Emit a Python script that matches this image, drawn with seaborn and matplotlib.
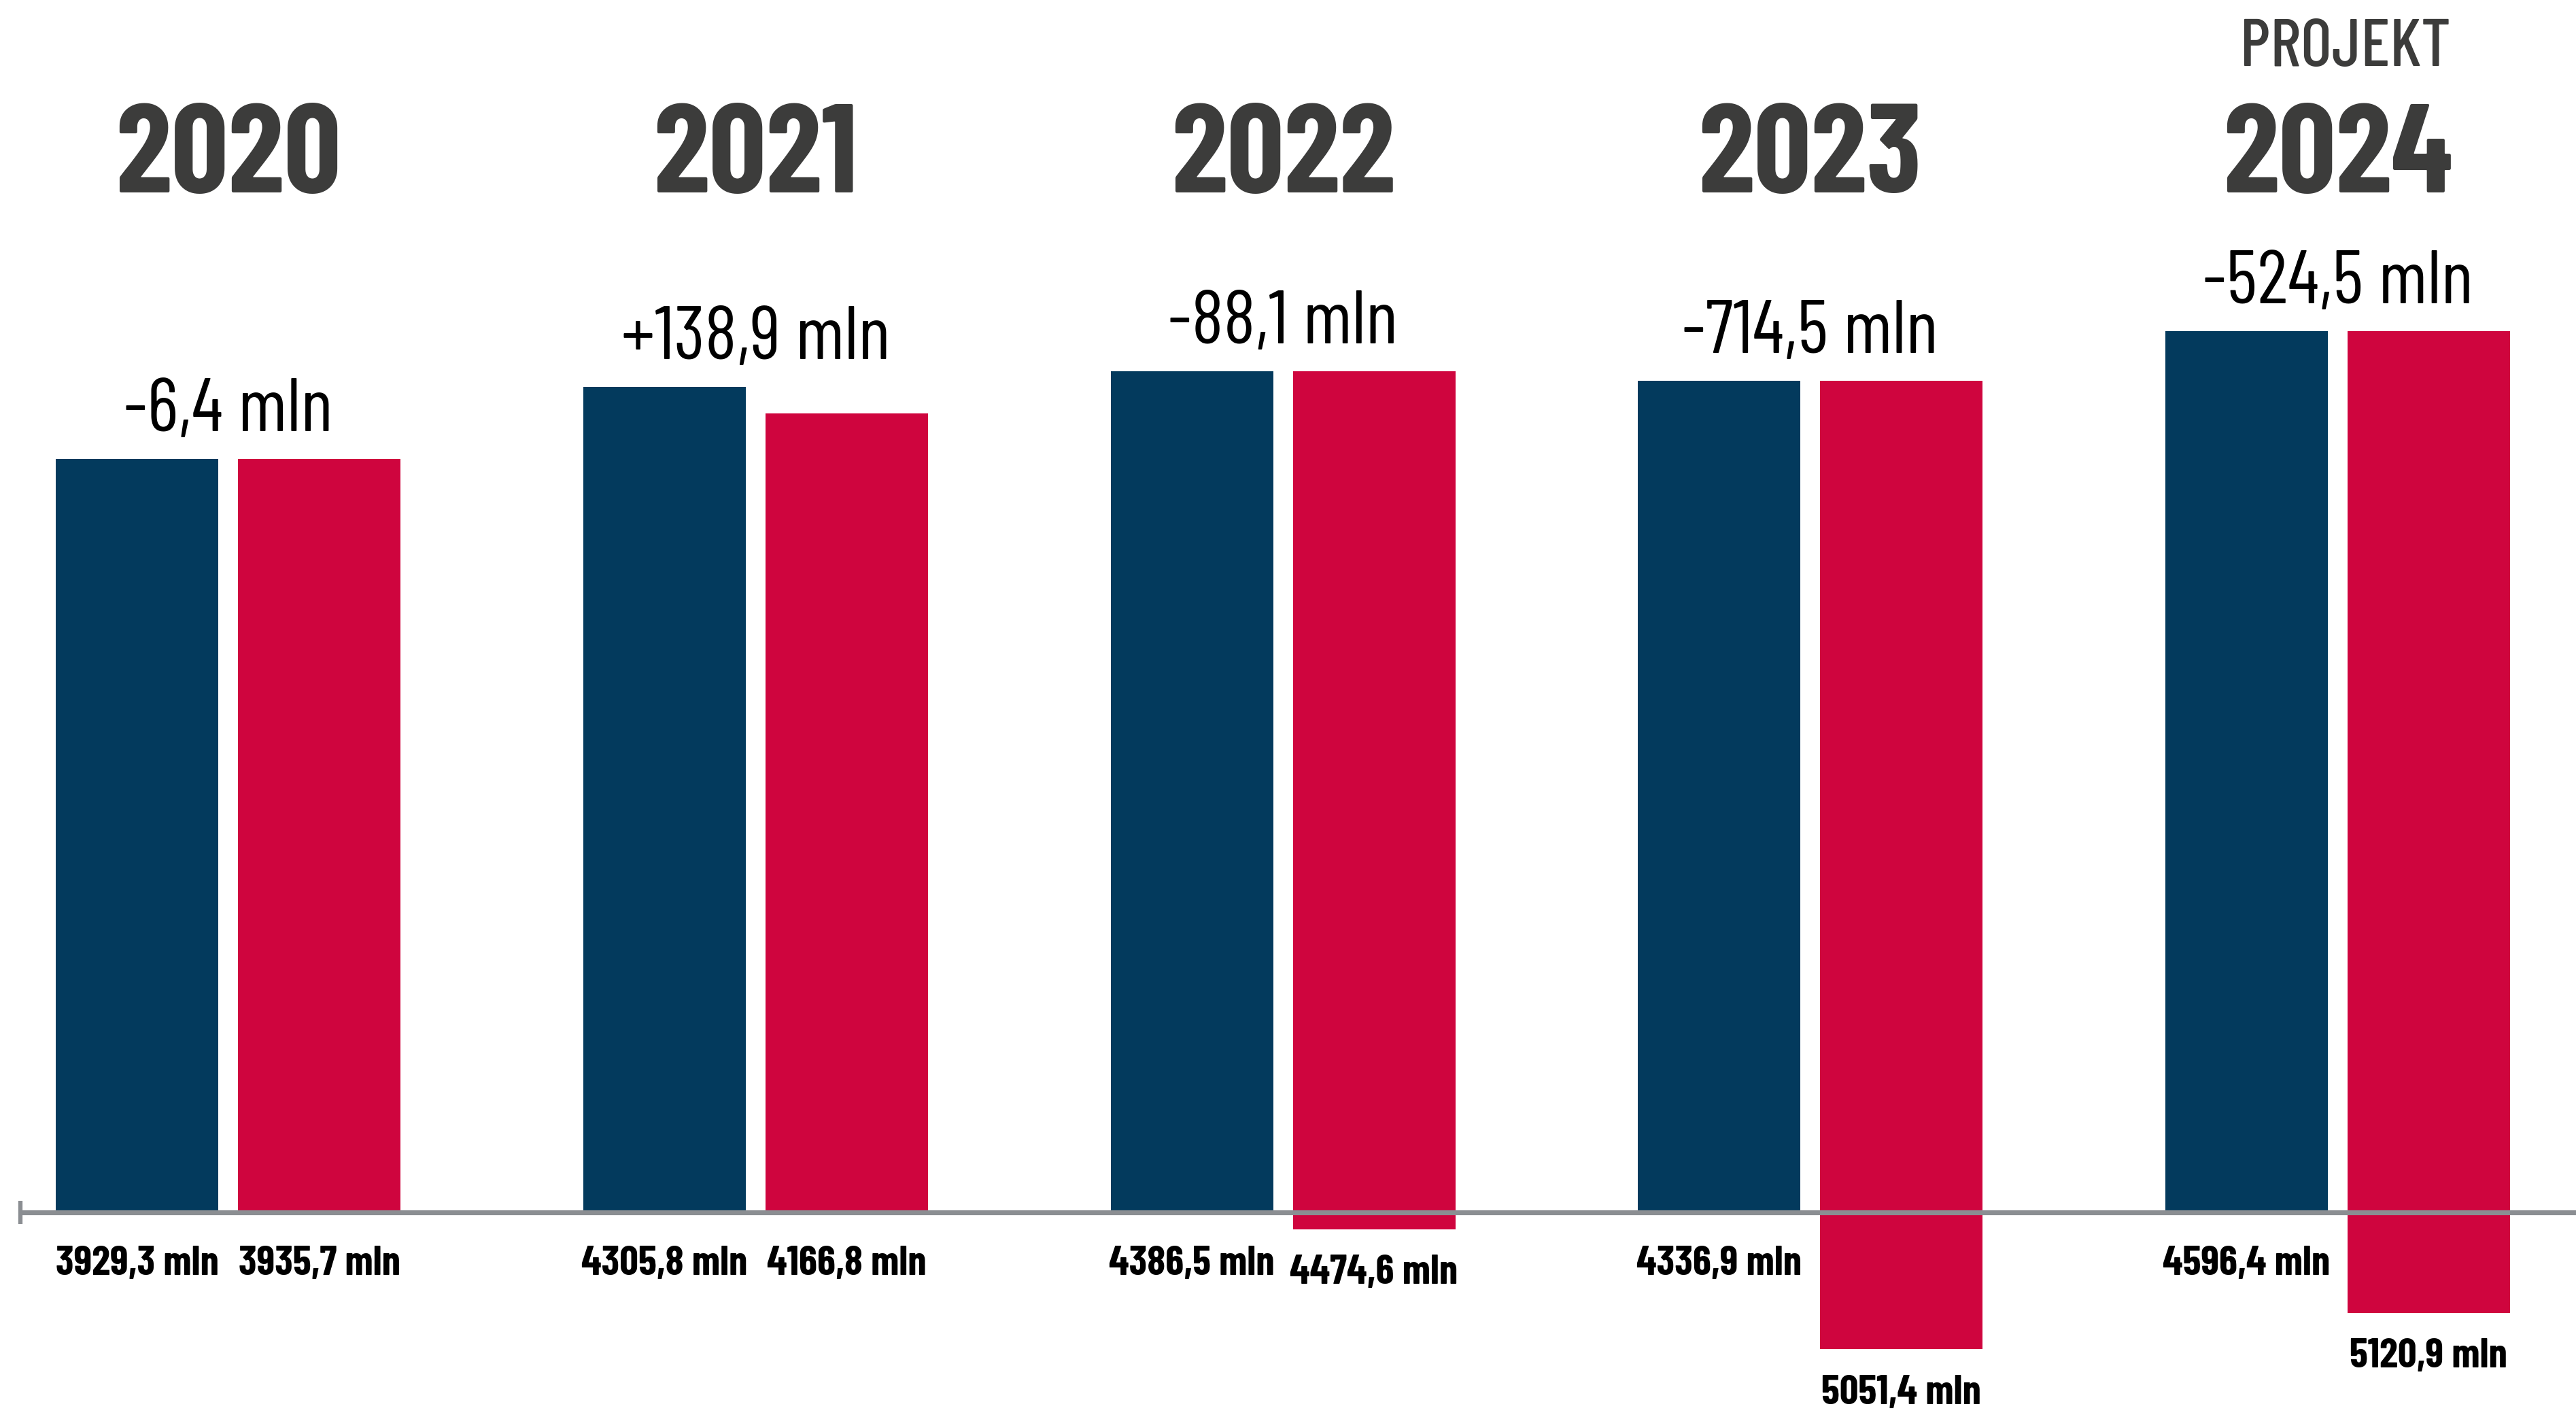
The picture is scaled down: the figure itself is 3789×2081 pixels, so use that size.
import seaborn as sns
import matplotlib.pyplot as plt
import pandas as pd

sns.set_theme(style="white")
plt.rcParams["font.family"] = ["Barlow Condensed", "DejaVu Sans"]

# data
years = ["2020", "2021", "2022", "2023", "2024"]
dochody = [3929.3, 4305.8, 4386.5, 4336.9, 4596.4]   # blue bars
wydatki = [3935.7, 4166.8, 4474.6, 5051.4, 5120.9]   # red bars
wynik = ["-6,4 mln", "+138,9 mln", "-88,1 mln", "-714,5 mln", "-524,5 mln"]
dochody_lbl = ["3929,3 mln", "4305,8 mln", "4386,5 mln", "4336,9 mln", "4596,4 mln"]
wydatki_lbl = ["3935,7 mln", "4166,8 mln", "4474,6 mln", "5051,4 mln", "5120,9 mln"]

BLUE = "#033a5d"
RED = "#cf053e"
GRAY = "#8b8e92"
DARK = "#3c3c3b"

df = pd.DataFrame({
    "rok": years * 2,
    "rodzaj": ["dochody"] * 5 + ["wydatki"] * 5,
    "kwota": dochody + wydatki,
})

fig = plt.figure(figsize=(37.89, 20.81), dpi=100)
ax = fig.add_axes([0, 0, 1, 1])

sns.barplot(data=df, x="rok", y="kwota", hue="rodzaj", palette=[BLUE, RED],
            width=0.691, gap=0.108, saturation=1, legend=False, ax=ax,
            linewidth=0, errorbar=None)

# red bars hang down when spending exceeds income, tops aligned with blue
bottoms = [min(0.0, d - w) for d, w in zip(dochody, wydatki)]
for patch, b in zip(ax.containers[1], bottoms):
    patch.set_y(b)

ax.set_xlim(-0.433, 4.452)
ax.set_ylim(-1057, 6323)
ax.axis("off")

# baseline with small tick at the left end
ax.hlines(0, -0.394, 4.452, color=GRAY, linewidth=5.2, zorder=3)
ax.vlines(-0.394, -60, 60, color=GRAY, linewidth=4.5, zorder=3)

off = 0.691 / 4
for i, yr in enumerate(years):
    ax.text(i, 5319, yr, ha="center", va="baseline", fontsize=134,
            fontweight="bold", color=DARK)
    top = max(dochody[i], bottoms[i] + wydatki[i])
    ax.text(i, top + 145, wynik[i], ha="center", va="baseline", fontsize=80,
            color="black")
    ax.text(i - off, -325, dochody_lbl[i], ha="center", va="baseline",
            fontsize=44, fontweight="bold", color="black")
    ax.text(i + off, min(bottoms[i], -40) - 285, wydatki_lbl[i], ha="center",
            va="baseline", fontsize=44, fontweight="bold", color="black")

ax.text(4.015, 5979, "PROJEKT", ha="center", va="baseline", fontsize=71,
        fontweight="medium", color=DARK)

plt.savefig("out.png", dpi=100)
plt.close()
